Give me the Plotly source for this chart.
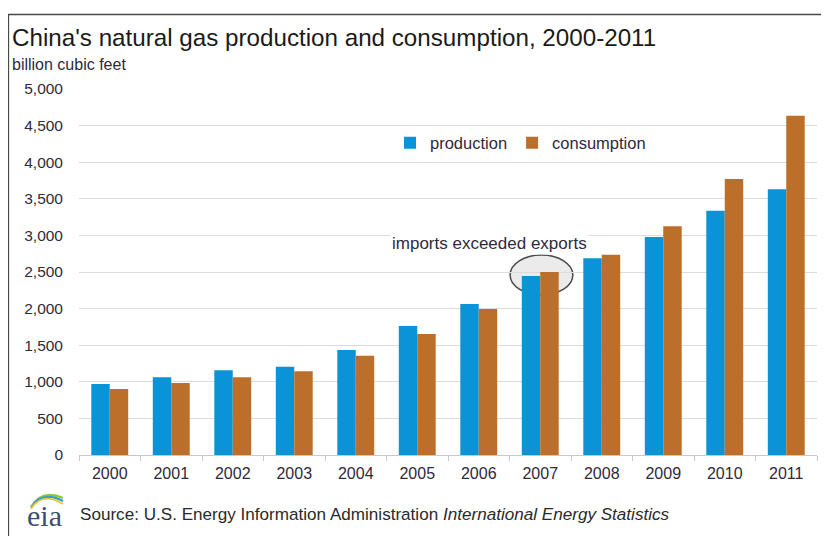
import plotly.graph_objects as go

years = ["2000", "2001", "2002", "2003", "2004", "2005", "2006", "2007", "2008", "2009", "2010", "2011"]
production = [970, 1062, 1157, 1207, 1434, 1762, 2063, 2445, 2687, 2978, 3337, 3630]
consumption = [902, 984, 1062, 1143, 1357, 1653, 1995, 2500, 2737, 3124, 3770, 4635]
y_ticks = [0, 500, 1000, 1500, 2000, 2500, 3000, 3500, 4000, 4500, 5000]

BLUE = "#0a93d6"
ORANGE = "#bb6f2a"
TXT = "#2f2a3c"
FONT = "Liberation Sans, Arial, sans-serif"

# page offset (browser body margin) compensation
OFF = 8
W, H = 829 - OFF, 536 - OFF
L, R, T, B = 79 - OFF, 829 - 817, 89 - OFF, 536 - 455
pw, ph = W - L - R, H - T - B

def px(X):
    return (X - OFF - L) / pw

def py(Y):
    return (H - B - (Y - OFF)) / ph

fig = go.Figure()
fig.add_bar(x=years, y=production, name="production", marker=dict(color=BLUE, line=dict(width=0)))
fig.add_bar(x=years, y=consumption, name="consumption", marker=dict(color=ORANGE, line=dict(width=0)))

fig.update_layout(
    width=W, height=H,
    margin=dict(l=L, r=R, t=T, b=B, autoexpand=False),
    paper_bgcolor="white", plot_bgcolor="white",
    barmode="group", bargap=0.4, bargroupgap=0,
    font=dict(family=FONT, color=TXT, size=15),
    showlegend=True,
    legend=dict(orientation="h", x=px(390), y=py(143), xanchor="left", yanchor="middle",
                bgcolor="white", font=dict(size=16.5, color=TXT), itemwidth=30,
                traceorder="normal", tracegroupgap=0),
    xaxis=dict(type="category", showgrid=False, showline=True, linecolor="#c8c8c8", linewidth=1,
               ticks="outside", tickson="boundaries", ticklen=5, tickcolor="#c8c8c8",
               tickfont=dict(size=16, color=TXT), ticklabelstandoff=4),
    yaxis=dict(range=[0, 5000], tickvals=y_ticks, tickformat=",", showgrid=True,
               gridcolor="#dcdcdc", gridwidth=1, zeroline=False, showline=False,
               tickfont=dict(size=15.5, color=TXT), ticks="", ticklabelstandoff=15),
)

# outer frame
fig.add_shape(type="rect", xref="paper", yref="paper", x0=px(8.5), x1=px(845), y0=py(550), y1=py(14.5),
              line=dict(color="#4a4a4a", width=1.3), fillcolor="rgba(0,0,0,0)", layer="above")

# highlight ellipse around 2007
fig.add_shape(type="circle", xref="x", yref="y", x0=6.51, x1=7.53, y0=2186, y1=2732,
              line=dict(color="#4a4a4a", width=1.5), fillcolor="rgba(205,205,205,0.4)", layer="below")

fig.add_annotation(x=6.18, y=2896, xref="x", yref="y", text="imports exceeded exports",
                   showarrow=False, font=dict(size=17, color=TXT), bgcolor="white")

# title & subtitle
fig.add_annotation(xref="paper", yref="paper", x=px(10), y=py(37), xanchor="left", yanchor="middle",
                   text="China's natural gas production and consumption, 2000-2011",
                   showarrow=False, font=dict(size=24.2, color="#1a1a1a"))
fig.add_annotation(xref="paper", yref="paper", x=px(10), y=py(65), xanchor="left", yanchor="middle",
                   text="billion cubic feet", showarrow=False, font=dict(size=16, color=TXT))

# source
fig.add_annotation(xref="paper", yref="paper", x=px(78), y=py(514), xanchor="left", yanchor="middle",
                   text="Source: U.S. Energy Information Administration <i>International Energy Statistics</i>",
                   showarrow=False, font=dict(size=17.1, color="#2a2a2a"))

# eia logo
fig.add_annotation(xref="paper", yref="paper", x=px(44), y=py(515), xanchor="center", yanchor="middle",
                   text="eia", showarrow=False,
                   font=dict(family="Liberation Serif, DejaVu Serif, serif", size=30, color="#3d4f6e"))
arcs = [("#8fc63f", 2.2, 0), ("#2a9fd8", 2.0, 3), ("#f2c230", 1.6, 6)]
for color, w, off in arcs:
    x0, y0 = 31, 507 + off * 0.3
    x1, y1 = 63, 498 + off
    cx, cy = 42, 489 + off * 0.4
    path = f"M {px(x0)},{py(y0)} Q {px(cx)},{py(cy)} {px(x1)},{py(y1)}"
    fig.add_shape(type="path", xref="paper", yref="paper", path=path,
                  line=dict(color=color, width=w))

fig.write_html("out.html")
